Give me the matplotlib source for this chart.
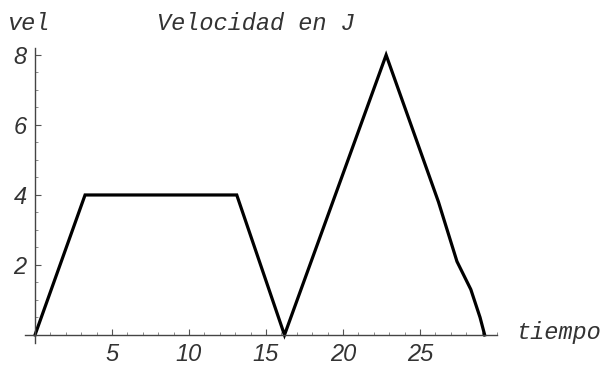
import matplotlib
matplotlib.use("Agg")
import matplotlib.pyplot as plt
from matplotlib.ticker import MultipleLocator

# tramos de velocidad (tiempo, vel)
tiempo = [0, 3.25, 13.1, 16.2, 22.8, 26.2, 27.4, 28.3, 28.9, 29.2]
vel = [0, 4, 4, 0, 8, 3.8, 2.1, 1.3, 0.5, 0.0]

xticks = [5, 10, 15, 20, 25]
yticks = [2, 4, 6, 8]

W, H = 605, 366
fig = plt.figure(figsize=(W / 100, H / 100), dpi=100)
fig.patch.set_facecolor("white")

# ejes que se cruzan en el origen
ax = fig.add_axes([25 / W, 1 - 343 / H, 472 / W, 295 / H])
ax.set_xlim(-0.65, 30.0)
ax.set_ylim(-0.23, 8.2)

ax.plot(tiempo, vel, color="black", lw=2.3, solid_joinstyle="miter")

for s in ["top", "right"]:
    ax.spines[s].set_visible(False)
ax.spines["left"].set_position(("data", 0))
ax.spines["bottom"].set_position(("data", 0))
for s in ["left", "bottom"]:
    ax.spines[s].set_color("#444444")
    ax.spines[s].set_linewidth(1.0)

ax.xaxis.set_minor_locator(MultipleLocator(1))
ax.yaxis.set_minor_locator(MultipleLocator(0.5))
ax.set_xticks(xticks)
ax.set_yticks(yticks)
ax.set_xticklabels([str(t) for t in xticks])
ax.set_yticklabels([str(t) for t in yticks])

ax.tick_params(which="major", direction="in", length=4, width=0.8, color="#555555")
ax.tick_params(which="minor", direction="in", length=2, width=0.6, color="#777777")
ax.tick_params(axis="x", which="major", pad=6)
ax.tick_params(axis="y", which="major", pad=6)
for lab in ax.get_xticklabels() + ax.get_yticklabels():
    lab.set_fontfamily("Liberation Sans")
    lab.set_fontstyle("italic")
    lab.set_fontsize(17)
    lab.set_color("#333333")

mono = dict(family="Liberation Mono", style="italic", color="#333333", fontsize=17)
fig.text(8 / W, 1 - 24 / H, "vel", ha="left", va="center", **mono)
fig.text(157 / W, 1 - 24 / H, "Velocidad en J", ha="left", va="center", **mono)
fig.text(517 / W, 1 - 332 / H, "tiempo", ha="left", va="center", **mono)

fig.savefig("out.png", dpi=100, facecolor="white")
